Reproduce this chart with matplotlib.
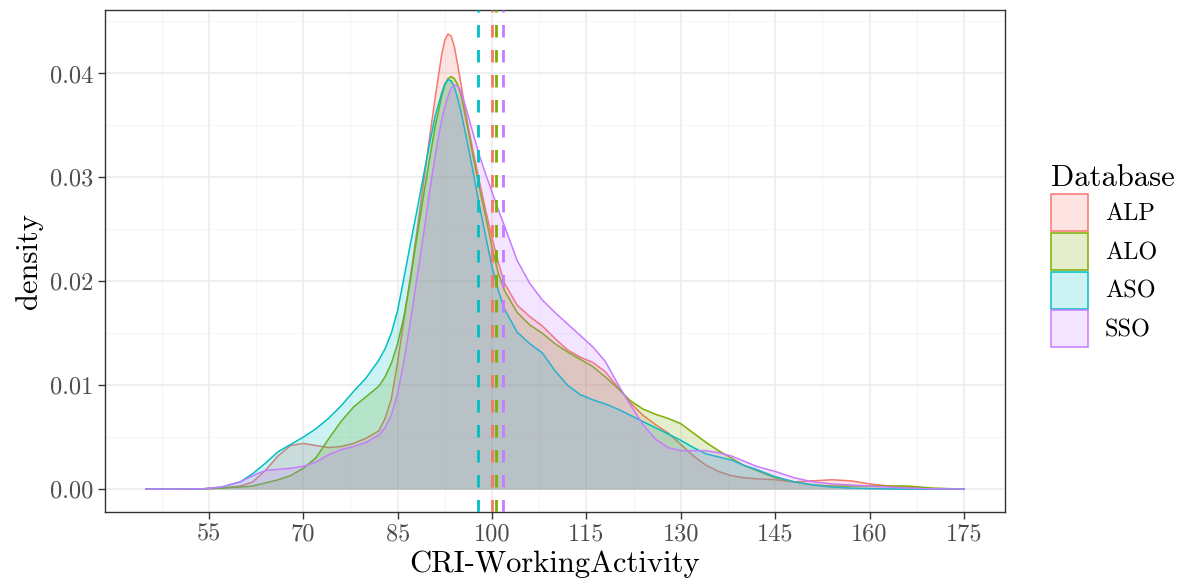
import numpy as np
import matplotlib
matplotlib.use("Agg")
import matplotlib.pyplot as plt
from matplotlib.patches import Patch

plt.rcParams['font.family'] = ['cmr10', 'DejaVu Serif']
plt.rcParams['axes.formatter.use_mathtext'] = True

# density curves, on a shared x grid
x_grid = [45, 50, 54, 57, 60, 62, 64, 66, 68, 70, 72, 74, 76, 78, 80, 82, 83, 84,
          85, 86, 87, 88, 89, 90, 91, 92, 92.5, 93, 93.5, 94, 94.5, 95, 96, 97,
          98, 99, 100, 101, 102, 104, 106, 108, 110, 112, 114, 116, 118, 120,
          122, 124, 126, 128, 130, 132, 134, 136, 138, 140, 142, 145, 148, 151,
          154, 157, 160, 163, 166, 170, 175]

alp = [0, 0, 0.00002, 0.0001, 0.0003, 0.0007, 0.0018, 0.0032, 0.0042, 0.0044,
       0.0042, 0.0040, 0.0041, 0.0044, 0.0049, 0.0056, 0.0068, 0.0087,
       0.0122, 0.0163, 0.0203, 0.0245, 0.0290, 0.0335, 0.0378, 0.0418, 0.0432,
       0.0438, 0.0436, 0.0426, 0.0410, 0.0392, 0.0356, 0.0325, 0.0296,
       0.0268, 0.0242, 0.0218, 0.0198, 0.0177, 0.0166, 0.0157, 0.0145, 0.0134,
       0.0127, 0.0122, 0.0113, 0.0098, 0.0083, 0.0071, 0.0062, 0.0054, 0.0043,
       0.0032, 0.0023, 0.0017, 0.0013, 0.0011, 0.0010, 0.0009, 0.0007, 0.0008,
       0.0009, 0.0008, 0.0005, 0.0003, 0.00015, 0.00005, 0]

alo = [0, 0, 0.00002, 0.0001, 0.0002, 0.0003, 0.0006, 0.0009, 0.0013, 0.0020,
       0.0030, 0.0048, 0.0065, 0.0079, 0.0089, 0.0099, 0.0108, 0.0121,
       0.0140, 0.0166, 0.0200, 0.0240, 0.0278, 0.0315, 0.0350, 0.0378, 0.0389,
       0.0395, 0.0397, 0.0395, 0.0390, 0.0381, 0.0352, 0.0320, 0.0290,
       0.0262, 0.0233, 0.0208, 0.0191, 0.0170, 0.0158, 0.0150, 0.0140, 0.0132,
       0.0125, 0.0118, 0.0108, 0.0097, 0.0085, 0.0077, 0.0072, 0.0068, 0.0063,
       0.0054, 0.0045, 0.0037, 0.0030, 0.0023, 0.0018, 0.0011, 0.0007, 0.0004,
       0.0003, 0.0003, 0.0003, 0.0003, 0.0003, 0.0001, 0]

aso = [0, 0, 0.00003, 0.0002, 0.0007, 0.0015, 0.0025, 0.0036, 0.0043, 0.0050,
       0.0058, 0.0068, 0.0080, 0.0094, 0.0107, 0.0124, 0.0135, 0.0150,
       0.0172, 0.0203, 0.0235, 0.0266, 0.0298, 0.0330, 0.0360, 0.0381, 0.0390,
       0.0394, 0.0393, 0.0387, 0.0377, 0.0365, 0.0336, 0.0305, 0.0273,
       0.0243, 0.0214, 0.0191, 0.0173, 0.0151, 0.0140, 0.0131, 0.0114, 0.0100,
       0.0091, 0.0086, 0.0082, 0.0077, 0.0071, 0.0065, 0.0059, 0.0053, 0.0047,
       0.0040, 0.0034, 0.0031, 0.0028, 0.0023, 0.0019, 0.0012, 0.0007, 0.0004,
       0.0002, 0.0001, 0.00005, 0.00002, 0, 0, 0]

sso = [0, 0, 0.00003, 0.0002, 0.0007, 0.0013, 0.0018, 0.0019, 0.0020, 0.0022,
       0.0026, 0.0033, 0.0038, 0.0041, 0.0045, 0.0052, 0.0059, 0.0071,
       0.0092, 0.0123, 0.0160, 0.0200, 0.0240, 0.0283, 0.0322, 0.0355, 0.0368,
       0.0378, 0.0386, 0.0389, 0.0388, 0.0384, 0.0364, 0.0342, 0.0321,
       0.0303, 0.0286, 0.0269, 0.0253, 0.0220, 0.0198, 0.0182, 0.0170, 0.0159,
       0.0148, 0.0137, 0.0123, 0.0101, 0.0081, 0.0062, 0.0048, 0.0040, 0.0037,
       0.0037, 0.0037, 0.0035, 0.0032, 0.0027, 0.0022, 0.0017, 0.0011, 0.0007,
       0.0005, 0.0004, 0.0003, 0.0002, 0.0001, 0.00003, 0]

databases = ['ALP', 'ALO', 'ASO', 'SSO']
means = [100.0, 100.6, 97.7, 101.8]
colors = ['#F8766D', '#7CAE00', '#00BFC4', '#C77CFF']
series = [alp, alo, aso, sso]

x_ticks = [55, 70, 85, 100, 115, 130, 145, 160, 175]
y_ticks = [0.00, 0.01, 0.02, 0.03, 0.04]

fig = plt.figure(figsize=(11.84, 5.85), dpi=100)
ax = fig.add_axes([0.0887, 0.1248, 0.760, 0.858])

z = 2
for ys, col in zip(series, colors):
    ax.fill_between(x_grid, 0, ys, color=col, alpha=0.2, linewidth=0, zorder=z)
    ax.plot(x_grid, ys, color=col, lw=1.1, zorder=z + 0.5)
    z += 1

for m, col in zip(means, colors):
    ax.axvline(m, color=col, lw=2, linestyle=(0, (4.5, 4.5)), zorder=10)

ax.set_xlim(38.5, 181.5)
ax.set_ylim(-0.0022, 0.0461)
ax.set_xticks(x_ticks)
ax.set_xticklabels([str(t) for t in x_ticks])
ax.set_yticks(y_ticks)
ax.set_yticklabels(['%.2f' % t for t in y_ticks])
ax.set_xticks(np.arange(47.5, 181.5, 15), minor=True)
ax.set_yticks(np.arange(0.005, 0.046, 0.01), minor=True)
ax.grid(True, which='major', color='#EBEBEB', lw=1.1, zorder=0)
ax.grid(True, which='minor', color='#F4F4F4', lw=0.6, zorder=0)
ax.set_axisbelow(True)
ax.tick_params(which='major', length=5, width=1, color='#333333',
               labelsize=17.5, labelcolor='#4D4D4D')
ax.tick_params(which='minor', length=0)
for s in ax.spines.values():
    s.set_color('#333333')
    s.set_linewidth(1)

ax.set_xlabel('CRI-WorkingActivity', fontsize=22, labelpad=3)
ax.set_ylabel('density', fontsize=22, labelpad=5)

handles = [Patch(facecolor=matplotlib.colors.to_rgba(c, 0.2), edgecolor=c, lw=1.1)
           for c in colors]
fig.legend(handles, databases, title='Database', loc='upper left',
           bbox_to_anchor=(0.888, 0.718), frameon=False, fontsize=17.5,
           title_fontsize=22, handlelength=1.5, handleheight=1.95,
           labelspacing=0.08, handletextpad=0.7, borderpad=0,
           borderaxespad=0, alignment='left')

fig.savefig('out.png', dpi=100)
